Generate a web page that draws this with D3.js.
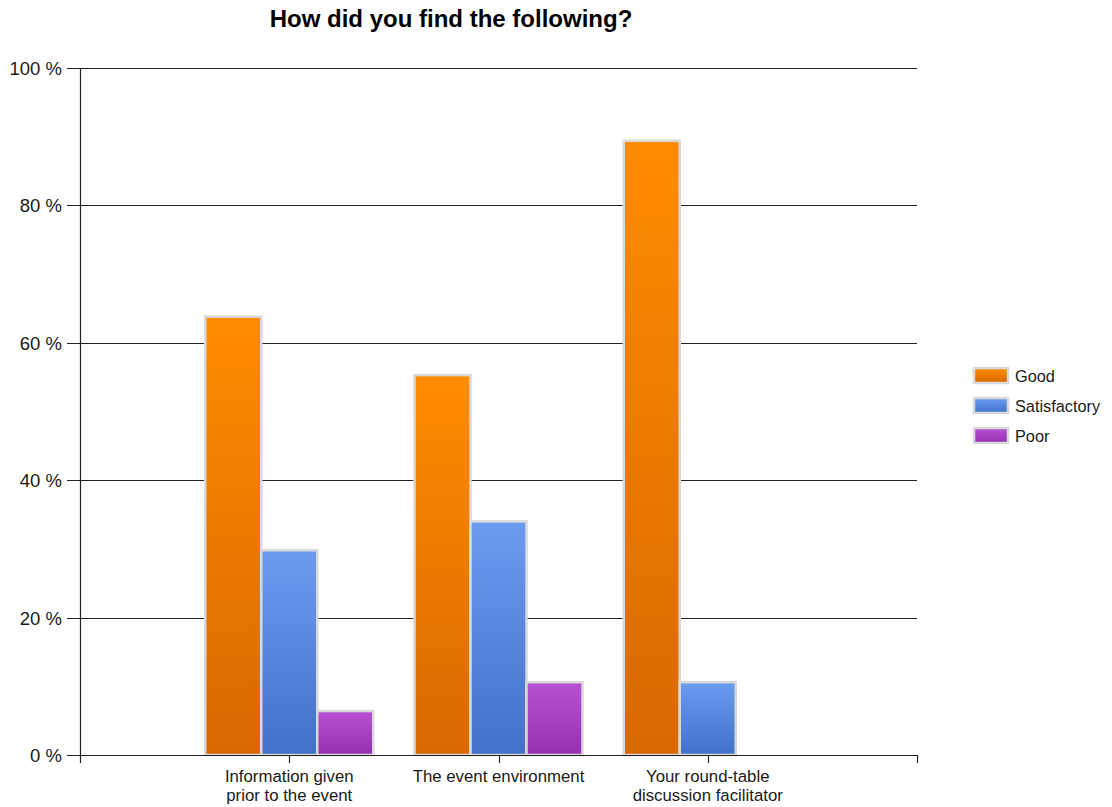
<!DOCTYPE html>
<html><head><meta charset="utf-8">
<script src="https://cdn.jsdelivr.net/npm/d3@7"></script>
<style>body{margin:0;background:#fff}svg{display:block}text{font-family:"Liberation Sans",Arial,sans-serif}</style>
</head><body>
<svg id="c" width="1112" height="807"></svg>
<script>
const categories = [["Information given","prior to the event"],["The event environment"],["Your round-table","discussion facilitator"]];
const seriesNames = ["Good","Satisfactory","Poor"];
const good = [63.8, 55.3, 89.4];
const satisfactory = [29.8, 34.0, 10.6];
const poor = [6.4, 10.6, 0];
const yTicks = [0,20,40,60,80,100];

(function(){
const svg = d3.select("#c");
const pLeft = 80, pRight = 917, pTop = 68, pBottom = 755;
const y = d3.scaleLinear().domain([0,100]).range([pBottom, pTop]);
const x = d3.scaleLinear().domain([0,4]).range([pLeft, pRight]);
const barW = 56;

const defs = svg.append("defs");
const grads = [["#ff8c00","#d96800"],["#6a9cf0","#3f72c8"],["#b850d4","#9630b0"]];
grads.forEach((g,i)=>{
  const lg = defs.append("linearGradient").attr("id","g"+i).attr("x1",0).attr("y1",0).attr("x2",0).attr("y2",1);
  lg.append("stop").attr("offset","0%").attr("stop-color",g[0]);
  lg.append("stop").attr("offset","100%").attr("stop-color",g[1]);
});

svg.append("text").attr("x",451).attr("y",27).attr("text-anchor","middle")
  .attr("font-size",24).attr("font-weight","bold").attr("fill","#000").text("How did you find the following?");

svg.append("g").selectAll("line").data(yTicks).join("line")
  .attr("x1",pLeft-13).attr("x2",pRight).attr("y1",d=>Math.round(y(d))+0.5).attr("y2",d=>Math.round(y(d))+0.5)
  .attr("stroke","#222").attr("stroke-width",1.2);
svg.append("g").selectAll("text").data(yTicks).join("text")
  .attr("x",62).attr("y",d=>Math.round(y(d))+7).attr("text-anchor","end").attr("font-size",18.5).attr("fill","#1a1a1a")
  .text(d=>d+" %");
svg.append("line").attr("x1",pLeft+0.5).attr("x2",pLeft+0.5).attr("y1",pTop).attr("y2",pBottom+8).attr("stroke","#222").attr("stroke-width",1.2);

const all = [good, satisfactory, poor];
all.forEach((vals,si)=>{
  svg.append("g").selectAll("rect").data(vals).join("rect")
    .attr("x",(d,i)=>x(i+1) - 1.5*barW + si*barW)
    .attr("y",d=>y(d))
    .attr("width",barW)
    .attr("height",d=>pBottom - y(d))
    .attr("fill","url(#g"+si+")")
    .attr("stroke","#d9d9d9").attr("stroke-width",2.5);
});

svg.append("line").attr("x1",pLeft).attr("x2",pRight).attr("y1",pBottom+0.5).attr("y2",pBottom+0.5).attr("stroke","#222").attr("stroke-width",1.2);
[1,2,3,4].forEach(v=>{
  svg.append("line").attr("x1",Math.round(x(v))+0.5).attr("x2",Math.round(x(v))+0.5).attr("y1",pBottom).attr("y2",pBottom+8).attr("stroke","#222").attr("stroke-width",1.2);
});
categories.forEach((lines,i)=>{
  const t = svg.append("text").attr("text-anchor","middle").attr("font-size",16.8).attr("fill","#1a1a1a");
  lines.forEach((l,j)=>t.append("tspan").attr("x",x(i+1)).attr("y",782+j*19).text(l));
});

seriesNames.forEach((n,i)=>{
  const yy = 368 + i*30;
  svg.append("rect").attr("x",974).attr("y",yy).attr("width",34).attr("height",15)
    .attr("fill","url(#g"+i+")").attr("stroke","#d9d9d9").attr("stroke-width",2.5);
  svg.append("text").attr("x",1015).attr("y",yy+14).attr("font-size",16.3).attr("fill","#1a1a1a").text(n);
});
})();
</script>
</body></html>
